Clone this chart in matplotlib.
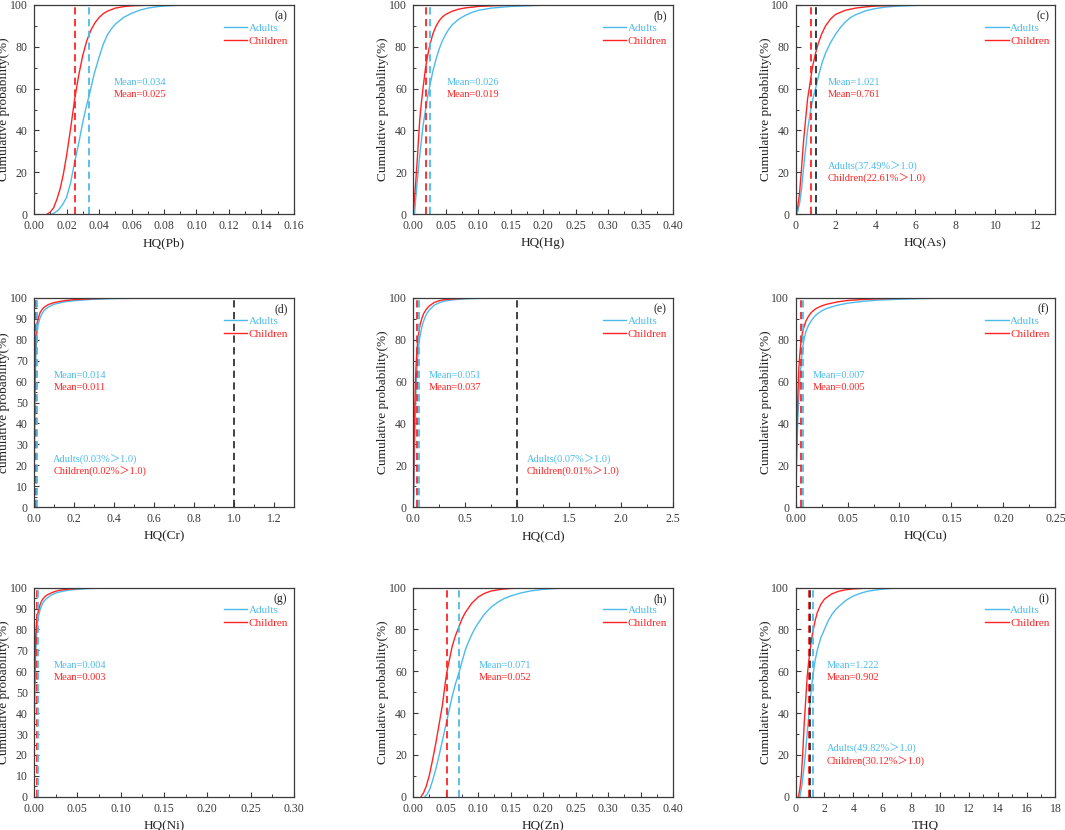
import matplotlib
matplotlib.use("Agg")
import matplotlib.pyplot as plt
from matplotlib.ticker import AutoMinorLocator, FormatStrFormatter, MultipleLocator

plt.rcParams['font.family'] = ['Liberation Serif', 'Noto Sans CJK SC']
plt.rcParams['axes.unicode_minus'] = False

BLUE = '#4dbbea'
RED = '#ff2424'
GRAY = '#3a3a3a'

# ---- data (x = HQ, y = cumulative %) ----
# (a) Pb
pb_adult_x = [0.011, 0.013, 0.015, 0.0175, 0.02, 0.0225, 0.025, 0.0275, 0.03, 0.032, 0.034, 0.037, 0.04,
              0.0425, 0.045, 0.0475, 0.05, 0.055, 0.06, 0.065, 0.07, 0.075, 0.08, 0.09, 0.10]
pb_adult_y = [0, 0.8, 2, 4.5, 8, 15, 25, 34, 44, 51, 57, 67, 75,
              81, 85.5, 88.5, 90.8, 94, 96, 97.5, 98.5, 99.1, 99.5, 99.9, 100]
pb_child_x = [0.008, 0.01, 0.012, 0.014, 0.016, 0.018, 0.02, 0.0225, 0.025, 0.0275, 0.03, 0.0325, 0.035,
              0.0375, 0.04, 0.0425, 0.045, 0.05, 0.055, 0.06, 0.07, 0.08, 0.09]
pb_child_y = [0, 1, 3, 7, 12, 19, 28, 41, 55, 66.5, 76, 83, 88,
              91.5, 94, 95.8, 97, 98.5, 99.2, 99.6, 99.9, 100, 100]

# (b) Hg
hg_adult_x = [0.002, 0.004, 0.006, 0.008, 0.01, 0.0125, 0.015, 0.0175, 0.02, 0.023, 0.026, 0.03, 0.035,
              0.04, 0.045, 0.05, 0.055, 0.06, 0.07, 0.08, 0.09, 0.10, 0.12, 0.15, 0.20, 0.25]
hg_adult_y = [0, 8, 15, 21.5, 28, 35, 42, 47, 52, 57.5, 62, 68, 74,
              79, 83, 86, 88.5, 90.5, 93.2, 95, 96.4, 97.4, 98.5, 99.3, 99.9, 100]
hg_child_x = [0, 0.002, 0.004, 0.006, 0.008, 0.01, 0.0125, 0.015, 0.017, 0.019, 0.022, 0.025, 0.03,
              0.035, 0.04, 0.045, 0.05, 0.06, 0.07, 0.08, 0.10, 0.12, 0.15, 0.20]
hg_child_y = [0, 8, 16, 25, 35, 45, 53, 60, 65, 70, 75.5, 80, 86,
              89.8, 92.5, 94.3, 95.5, 97, 98, 98.6, 99.3, 99.6, 99.9, 100]

# (c) As
as_adult_x = [0.05, 0.1, 0.2, 0.3, 0.4, 0.5, 0.6, 0.7, 0.8, 0.9, 1.0, 1.1, 1.2, 1.35, 1.5, 1.75,
              2, 2.25, 2.5, 2.75, 3, 3.5, 4, 4.5, 5, 6, 7, 8, 12]
as_adult_y = [0, 1, 5, 12, 22, 31, 40, 46.5, 52, 56.5, 60, 64, 68, 73, 77, 82,
              86, 89.3, 92, 94, 95.3, 97.2, 98.3, 99, 99.4, 99.8, 99.95, 100, 100]
as_child_x = [0, 0.1, 0.2, 0.3, 0.4, 0.5, 0.6, 0.7, 0.76, 0.85, 1.0, 1.15, 1.3, 1.5, 1.75,
              2, 2.5, 3, 3.5, 4, 5, 6, 8]
as_child_y = [0, 3, 10, 22, 35, 45, 55, 61, 65, 70.5, 77, 82, 86, 90, 93.3,
              95.5, 97.5, 98.5, 99.1, 99.5, 99.8, 100, 100]

# (d) Cr
cr_adult_x = [0, 0.001, 0.002, 0.0035, 0.005, 0.0075, 0.01, 0.014, 0.02, 0.03, 0.04, 0.05, 0.07,
              0.1, 0.15, 0.2, 0.3, 0.4, 0.5, 0.7]
cr_adult_y = [0, 15, 30, 45, 55, 67, 75, 82, 87, 90.5, 92.5, 94, 95.6,
              97, 98.1, 98.7, 99.4, 99.7, 99.85, 100]
cr_child_x = [0, 0.001, 0.002, 0.003, 0.004, 0.006, 0.008, 0.011, 0.015, 0.02, 0.03, 0.04, 0.05,
              0.07, 0.1, 0.15, 0.2, 0.3, 0.4, 0.5, 0.6]
cr_child_y = [0, 22, 40, 54, 65, 74, 80, 85, 88, 90, 93, 94.5, 95.5,
              96.8, 97.8, 98.7, 99.2, 99.7, 99.9, 100, 100]

# (e) Cd
cd_adult_x = [0, 0.005, 0.01, 0.015, 0.02, 0.025, 0.03, 0.04, 0.051, 0.06, 0.07, 0.085, 0.1,
              0.125, 0.15, 0.2, 0.25, 0.3, 0.4, 0.5, 0.7, 1.0, 2.1]
cd_adult_y = [0, 5, 20, 33, 45, 53, 60, 70, 76, 80, 83, 86.5, 89,
              92, 94, 96.5, 97.7, 98.5, 99.2, 99.6, 99.9, 100, 100]
cd_child_x = [0, 0.005, 0.01, 0.015, 0.02, 0.025, 0.03, 0.037, 0.045, 0.05, 0.06, 0.07, 0.085,
              0.1, 0.125, 0.15, 0.2, 0.25, 0.3, 0.4, 0.5, 0.7, 1.0]
cd_child_y = [0, 15, 35, 47, 58, 65, 70, 76, 80, 82, 85.5, 88, 90.5,
              92.5, 94.5, 96, 97.8, 98.7, 99.2, 99.6, 99.8, 99.95, 100]

# (f) Cu
cu_adult_x = [0, 0.0005, 0.001, 0.002, 0.003, 0.004, 0.005, 0.006, 0.007, 0.008, 0.01, 0.0125,
              0.015, 0.0175, 0.02, 0.025, 0.03, 0.04, 0.05, 0.065, 0.08, 0.10, 0.12, 0.15]
cu_adult_y = [0, 10, 20, 40, 51, 60, 66.5, 72, 76.5, 80, 84, 87,
              89, 90.7, 92, 93.8, 95, 96.5, 97.5, 98.4, 99, 99.4, 99.7, 100]
cu_child_x = [0, 0.0005, 0.001, 0.002, 0.003, 0.004, 0.005, 0.0065, 0.008, 0.01, 0.0125, 0.015,
              0.0175, 0.02, 0.025, 0.03, 0.04, 0.05, 0.065, 0.08, 0.10, 0.12]
cu_child_y = [0, 15, 30, 50, 65, 72.5, 78, 83, 86, 89, 91.3, 93,
              94.1, 95, 96.2, 97, 98.1, 98.8, 99.3, 99.6, 99.85, 100]

# (g) Ni
ni_adult_x = [0, 0.00025, 0.0005, 0.001, 0.0015, 0.002, 0.003, 0.004, 0.005, 0.006, 0.008, 0.01,
              0.0125, 0.015, 0.02, 0.025, 0.03, 0.04, 0.05, 0.065, 0.08, 0.10, 0.12]
ni_adult_y = [0, 25, 40, 55, 64, 70, 78, 83, 86, 88, 90.7, 92.5,
              94, 95, 96.5, 97.4, 98, 98.8, 99.2, 99.6, 99.8, 99.95, 100]
ni_child_x = [0, 0.00025, 0.0005, 0.001, 0.0015, 0.002, 0.003, 0.004, 0.005, 0.0065, 0.008, 0.01,
              0.0125, 0.015, 0.02, 0.025, 0.03, 0.04, 0.05, 0.065, 0.08]
ni_child_y = [0, 32, 50, 65, 73, 78, 84, 87, 89, 91.3, 93, 94.5,
              95.7, 96.5, 97.5, 98.3, 98.8, 99.3, 99.6, 99.85, 100]

# (h) Zn
zn_adult_x = [0.018, 0.022, 0.026, 0.03, 0.035, 0.04, 0.045, 0.05, 0.055, 0.06, 0.065, 0.071, 0.075,
              0.08, 0.085, 0.09, 0.095, 0.10, 0.11, 0.12, 0.13, 0.14, 0.15, 0.165, 0.18, 0.20,
              0.225, 0.25, 0.30]
zn_adult_y = [0, 1.5, 4, 8, 13.5, 20, 27, 34, 41, 48, 54, 60, 64.5,
              70, 74, 77.5, 80.5, 83, 87.5, 90.7, 93, 94.8, 96, 97.4, 98.4, 99.2,
              99.7, 100, 100]
zn_child_x = [0.012, 0.016, 0.02, 0.025, 0.03, 0.035, 0.04, 0.045, 0.05, 0.052, 0.056, 0.06, 0.065,
              0.07, 0.075, 0.08, 0.09, 0.10, 0.11, 0.12, 0.135, 0.15, 0.175, 0.20, 0.25]
zn_child_y = [0, 2, 5, 10.5, 18, 26, 35, 44, 56, 60, 66, 72, 77,
              81, 85, 88, 92.5, 95.5, 97.3, 98.4, 99.2, 99.6, 99.9, 100, 100]

# (i) THQ
thq_adult_x = [0.3, 0.45, 0.6, 0.7, 0.8, 0.9, 1.0, 1.1, 1.222, 1.35, 1.5, 1.75, 2, 2.25, 2.5,
               2.75, 3, 3.5, 4, 4.5, 5, 6, 7, 8, 10]
thq_adult_y = [0, 6, 15, 22, 30, 37.5, 45, 52, 59, 65, 70, 76, 80, 84, 87,
               89.3, 91, 94, 96, 97.3, 98.3, 99.3, 99.8, 100, 100]
thq_child_x = [0.2, 0.3, 0.4, 0.5, 0.6, 0.7, 0.8, 0.9, 1.0, 1.1, 1.2, 1.35, 1.5, 1.75, 2,
               2.5, 3, 3.5, 4, 5, 6, 8]
thq_child_y = [0, 4, 10, 21, 35, 46, 57, 64, 70, 75, 79, 84, 88, 92, 94.5,
               97, 98.3, 99, 99.4, 99.8, 100, 100]

# panel meta: means, exceedance (>1.0) percentages
tags = ['(a)', '(b)', '(c)', '(d)', '(e)', '(f)', '(g)', '(h)', '(i)']
xlabels = ['HQ(Pb)', 'HQ(Hg)', 'HQ(As)', 'HQ(Cr)', 'HQ(Cd)', 'HQ(Cu)', 'HQ(Ni)', 'HQ(Zn)', 'THQ']
adult_means = [0.034, 0.026, 1.021, 0.014, 0.051, 0.007, 0.004, 0.071, 1.222]
child_means = [0.025, 0.019, 0.761, 0.011, 0.037, 0.005, 0.003, 0.052, 0.902]
adult_exceed = [None, None, '37.49%', '0.03%', '0.07%', None, None, None, '49.82%']
child_exceed = [None, None, '22.61%', '0.02%', '0.01%', None, None, None, '30.12%']

adult_x = [pb_adult_x, hg_adult_x, as_adult_x, cr_adult_x, cd_adult_x, cu_adult_x, ni_adult_x, zn_adult_x, thq_adult_x]
adult_y = [pb_adult_y, hg_adult_y, as_adult_y, cr_adult_y, cd_adult_y, cu_adult_y, ni_adult_y, zn_adult_y, thq_adult_y]
child_x = [pb_child_x, hg_child_x, as_child_x, cr_child_x, cd_child_x, cu_child_x, ni_child_x, zn_child_x, thq_child_x]
child_y = [pb_child_y, hg_child_y, as_child_y, cr_child_y, cd_child_y, cu_child_y, ni_child_y, zn_child_y, thq_child_y]

# axis setup per panel
xmaxs = [0.16, 0.40, 13, 1.3, 2.5, 0.25, 0.30, 0.40, 18]
xsteps = [0.02, 0.05, 2, 0.2, 0.5, 0.05, 0.05, 0.05, 2]
xfmts = ['%.2f', '%.2f', '%d', '%.1f', '%.1f', '%.2f', '%.2f', '%.2f', '%d']
ysteps = [20, 20, 20, 10, 20, 20, 10, 20, 20]
text_x = [0.049, 0.051, 1.6, 0.096, 0.154, 0.017, 0.023, 0.101, 2.16]
exceed_x = [None, None, 1.6, 0.096, 1.09, None, None, None, 2.16]
black_line = [False, False, True, True, True, False, False, False, True]

lefts = [0.032, 0.388, 0.747]
bottoms = [0.742, 0.389, 0.040]
W, H = 0.244, 0.252

fig = plt.figure(figsize=(10.65, 8.3), dpi=100)

for i in range(9):
    r, c = divmod(i, 3)
    ax = fig.add_axes([lefts[c], bottoms[r], W, H])

    ax.plot(adult_x[i], adult_y[i], color=BLUE, lw=1.0, label='Adults')
    ax.plot(child_x[i], child_y[i], color=RED, lw=1.0, label='Children')

    ax.axvline(child_means[i], color=RED, ls=(0, (4, 2.5)), lw=1.3)
    ax.axvline(adult_means[i], color=BLUE, ls=(0, (4, 2.5)), lw=1.3)
    if black_line[i]:
        ax.axvline(1.0, color='#333333', ls=(0, (4, 2.5)), lw=1.3)

    ax.set_xlim(0, xmaxs[i])
    ax.set_ylim(0, 100)
    ax.xaxis.set_major_locator(MultipleLocator(xsteps[i]))
    ax.xaxis.set_major_formatter(FormatStrFormatter(xfmts[i]))
    ax.yaxis.set_major_locator(MultipleLocator(ysteps[i]))
    ax.xaxis.set_minor_locator(AutoMinorLocator(2))
    ax.yaxis.set_minor_locator(AutoMinorLocator(2))
    ax.tick_params(which='both', direction='in', labelsize=8.5, colors=GRAY,
                   top=False, right=False)
    ax.tick_params(which='major', length=3.5, width=0.8)
    ax.tick_params(axis='x', which='major', pad=4.5)
    ax.tick_params(axis='y', which='major', pad=4.5)
    ax.tick_params(which='minor', length=2, width=0.7)
    for s in ax.spines.values():
        s.set_color(GRAY)
        s.set_linewidth(0.9)

    ylab = 'cumulative probability(%)' if i == 3 else 'Cumulative probability(%)'
    ax.set_ylabel(ylab, fontsize=9.5, color='#222222')
    ax.set_xlabel(xlabels[i], fontsize=9.5, color='#222222')
    ax.yaxis.set_label_coords(-0.092, 0.5)
    ax.xaxis.set_label_coords(0.5, -0.11)

    ax.text(0.975, 0.945, tags[i], transform=ax.transAxes, ha='right', va='center',
            fontsize=8.5, color='#222222')
    ax.legend(loc='upper left', bbox_to_anchor=(0.73, 0.915), frameon=False,
              fontsize=8, handlelength=2.1, handletextpad=0.15, labelspacing=0.3,
              borderaxespad=0, borderpad=0, labelcolor='linecolor')

    ax.text(text_x[i], 63, f'Mean={adult_means[i]:.3f}', color=BLUE, fontsize=7.5, va='center')
    ax.text(text_x[i], 57, f'Mean={child_means[i]:.3f}', color=RED, fontsize=7.5, va='center')
    if adult_exceed[i]:
        ax.text(exceed_x[i], 22.8, f'Adults({adult_exceed[i]}＞1.0)', color=BLUE,
                fontsize=7.5, va='center')
        ax.text(exceed_x[i], 16.8, f'Children({child_exceed[i]}＞1.0)', color=RED,
                fontsize=7.5, va='center')

fig.savefig('out.png', dpi=100)
